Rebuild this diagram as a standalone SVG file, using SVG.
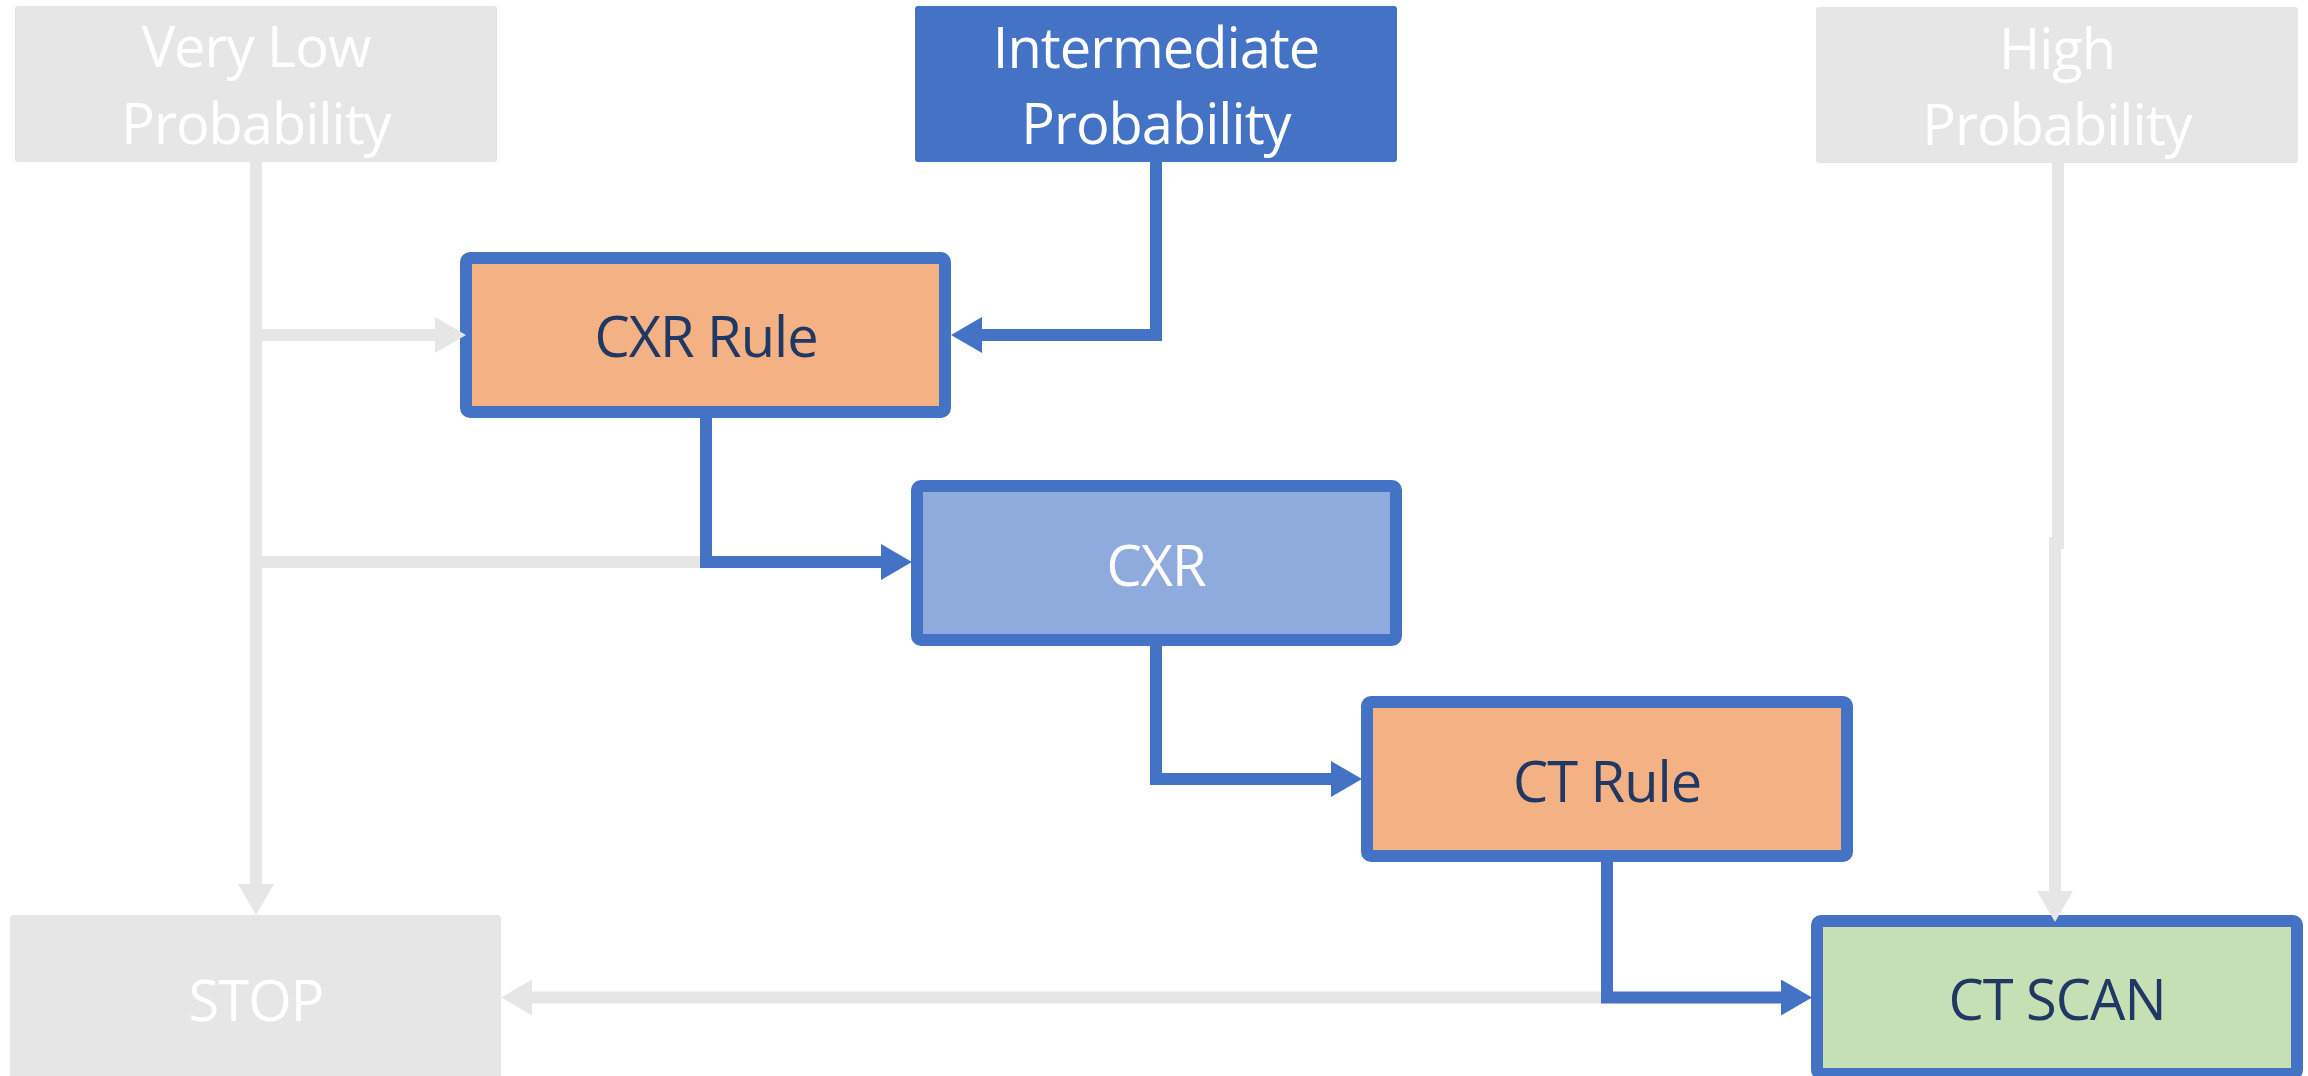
<svg xmlns="http://www.w3.org/2000/svg" width="2308" height="1076" viewBox="0 0 2308 1076">
  <style>
    .lbl { font-family: "Open Sans", "Noto Sans", "Liberation Sans", sans-serif; font-size: 56px; letter-spacing: -1px; text-anchor: middle; }
    .white { fill: #FFFFFF; }
    .navy { fill: #203864; }
    .grey-box { fill: #E6E6E6; }
    .step { stroke: #4472C4; stroke-width: 12; }
    .rule { fill: #F4B183; }
    .cxr { fill: #8FAADC; }
    .scan { fill: #C5E0B4; }
    .wire { fill: none; stroke-width: 12; stroke-linejoin: miter; stroke-linecap: butt; }
    .wire-grey { stroke: #E6E6E6; }
    .wire-blue { stroke: #4472C4; }
  </style>
  <defs>
    <marker id="head-blue" viewBox="0 -18 31 36" refX="0" refY="0" markerWidth="31" markerHeight="36" markerUnits="userSpaceOnUse" orient="auto">
      <path d="M0,-18 L31,0 L0,18 Z" fill="#4472C4"/>
    </marker>
    <marker id="head-grey" viewBox="0 -18 31 36" refX="0" refY="0" markerWidth="31" markerHeight="36" markerUnits="userSpaceOnUse" orient="auto">
      <path d="M0,-18 L31,0 L0,18 Z" fill="#E6E6E6"/>
    </marker>
  </defs>

  <!-- pre-test probability categories -->
  <g id="very-low">
    <rect class="grey-box" x="15" y="6" width="482" height="156" rx="3"/>
    <text class="lbl white" x="256" y="67">Very Low</text>
    <text class="lbl white" x="256" y="144">Probability</text>
  </g>
  <g id="intermediate">
    <rect x="915" y="6" width="482" height="156" rx="3" fill="#4472C4"/>
    <text class="lbl white" x="1156" y="68">Intermediate</text>
    <text class="lbl white" x="1156" y="144">Probability</text>
  </g>
  <g id="high">
    <rect class="grey-box" x="1816" y="7" width="482" height="156" rx="3"/>
    <text class="lbl white" x="2057" y="69">High</text>
    <text class="lbl white" x="2057" y="145">Probability</text>
  </g>

  <!-- work-up steps -->
  <g id="cxr-rule">
    <rect class="rule step" x="466" y="258" width="479" height="154" rx="4"/>
    <text class="lbl navy" x="706" y="357">CXR Rule</text>
  </g>
  <g id="cxr">
    <rect class="cxr step" x="917" y="486" width="479" height="154" rx="4"/>
    <text class="lbl white" x="1156" y="586">CXR</text>
  </g>
  <g id="ct-rule">
    <rect class="rule step" x="1367" y="702" width="480" height="154" rx="4"/>
    <text class="lbl navy" x="1607" y="802">CT Rule</text>
  </g>
  <g id="ct-scan">
    <rect class="scan step" x="1817" y="921" width="480" height="153" rx="4"/>
    <text class="lbl navy" x="2057" y="1020">CT SCAN</text>
  </g>
  <g id="stop">
    <rect class="grey-box" x="10" y="915" width="491" height="170" rx="4"/>
    <text class="lbl white" x="256" y="1021">STOP</text>
  </g>

  <!-- connectors: inactive paths in grey, active pathway in blue -->
  <g id="connectors">
    <path class="wire wire-grey" d="M256,161 V884" marker-end="url(#head-grey)"/>
    <path class="wire wire-grey" d="M256,335 H435" marker-end="url(#head-grey)"/>
    <path class="wire wire-grey" d="M256,562 H706"/>
    <path class="wire wire-grey" d="M1607,997.5 H532" marker-end="url(#head-grey)"/>
    <path class="wire wire-grey" d="M2058,162 V549"/>
    <path class="wire wire-grey" d="M2055,537 V891" marker-end="url(#head-grey)"/>

    <path class="wire wire-blue" d="M1156,161 V335 H982" marker-end="url(#head-blue)"/>
    <path class="wire wire-blue" d="M706,412 V562 H881" marker-end="url(#head-blue)"/>
    <path class="wire wire-blue" d="M1156,640 V779 H1331" marker-end="url(#head-blue)"/>
    <path class="wire wire-blue" d="M1607,856 V997.5 H1781" marker-end="url(#head-blue)"/>
  </g>
</svg>
